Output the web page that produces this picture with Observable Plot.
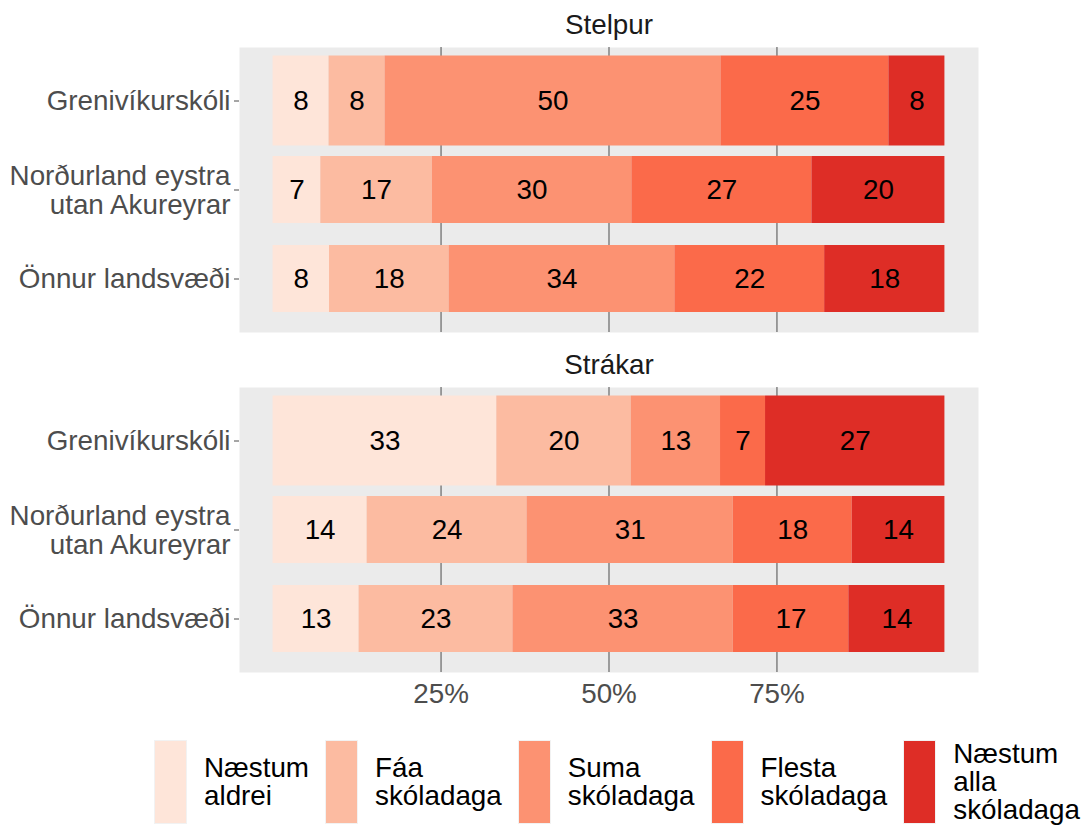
<!DOCTYPE html>
<html>
<head>
<meta charset="utf-8">
<script src="https://cdn.jsdelivr.net/npm/d3@7"></script>
<script src="https://cdn.jsdelivr.net/npm/@observablehq/plot@0.6"></script>
<style>
  html, body { margin: 0; padding: 0; background: #fff; }
  body { width: 1083px; height: 827px; overflow: hidden; font-family: "Liberation Sans", Arial, sans-serif; }
  #legend { display: flex; align-items: center; margin-top: 28px; padding-left: 154px; gap: 16px; }
  .item { display: flex; align-items: center; }
  .key { width: 31px; height: 82px; border: 1.5px solid #F2F2F2; }
  .lab { margin-left: 17px; font-size: 27.8px; line-height: 28px; color: #000; white-space: nowrap; }
</style>
</head>
<body>
<div id="chart"></div>
<div id="legend"></div>
<script>
const sexes = ["Stelpur", "Strákar"];
const areas = ["Grenivíkurskóli", "Norðurland eystra\nutan Akureyrar", "Önnur landsvæði"];
const responses = ["Næstum aldrei", "Fáa skóladaga", "Suma skóladaga", "Flesta skóladaga", "Næstum alla skóladaga"];
const colors = ["#FEE5D9", "#FCBBA1", "#FC9272", "#FB6A4A", "#DE2D26"];
const stelpurValues = [
  [8.33, 8.33, 50, 25, 8.34],
  [7.1, 16.6, 29.7, 26.8, 19.8],
  [8.4, 17.8, 33.6, 22.3, 17.9]
];
const strakarValues = [
  [33.3, 20, 13.3, 6.7, 26.7],
  [14.0, 23.8, 30.7, 17.7, 13.8],
  [12.8, 22.9, 32.8, 17.2, 14.3]
];
const xTicks = [25, 50, 75];

const data = [];
[stelpurValues, strakarValues].forEach((rows, si) => {
  rows.forEach((vals, ai) => {
    vals.forEach((v, ri) => {
      data.push({sex: sexes[si], area: areas[ai], response: responses[ri], pct: v});
    });
  });
});

const FS = 27.8;

const barMarks = areas.map((a, i) => Plot.barX(data.filter(d => d.area === a), Plot.stackX({
  x: "pct", y: "area", fy: "sex", fill: "response", order: null,
  insetTop: i === 0 ? -0.5 : 11, insetBottom: i === 0 ? -0.5 : 11
})));

const chart = Plot.plot({
  width: 1083,
  height: 712,
  marginLeft: 239,
  marginRight: 105,
  marginTop: 47,
  marginBottom: 40,
  style: {fontSize: FS + "px", fontFamily: "Liberation Sans, Arial, sans-serif", background: "#fff", color: "#000"},
  x: {domain: [-5, 105], axis: null},
  y: {domain: areas, paddingInner: 0, paddingOuter: 0.1, axis: null},
  fy: {domain: sexes, paddingInner: 55 / 340, paddingOuter: 0, axis: null},
  color: {domain: responses, range: colors},
  marks: [
    Plot.frame({fill: "#EBEBEB"}),
    Plot.ruleX(xTicks, {stroke: "#5A5A5A", strokeWidth: 1.1}),
    ...barMarks,
    Plot.text(data, Plot.stackX({
      x: "pct", y: "area", fy: "sex", order: null,
      text: d => Math.round(d.pct), fill: "#000", fontSize: FS
    })),
    Plot.axisY({tickSize: 5, tickPadding: 4, color: "#4D4D4D", label: null, lineHeight: 1.04, fontSize: FS}),
    Plot.axisX({ticks: xTicks, tickFormat: d => d + "%", tickSize: 0, tickPadding: 11, color: "#4D4D4D", label: null, fontSize: FS}),
    Plot.text(sexes, {fy: d => d, text: d => d, frameAnchor: "top", lineAnchor: "middle", dy: -22, fill: "#1A1A1A", fontSize: FS})
  ]
});
document.getElementById("chart").appendChild(chart);

const legend = document.getElementById("legend");
responses.forEach((r, i) => {
  const item = document.createElement("div");
  item.className = "item";
  const key = document.createElement("div");
  key.className = "key";
  key.style.background = colors[i];
  const lab = document.createElement("div");
  lab.className = "lab";
  lab.innerHTML = r.split(" ").join("<br>");
  item.appendChild(key);
  item.appendChild(lab);
  legend.appendChild(item);
});
</script>
</body>
</html>
